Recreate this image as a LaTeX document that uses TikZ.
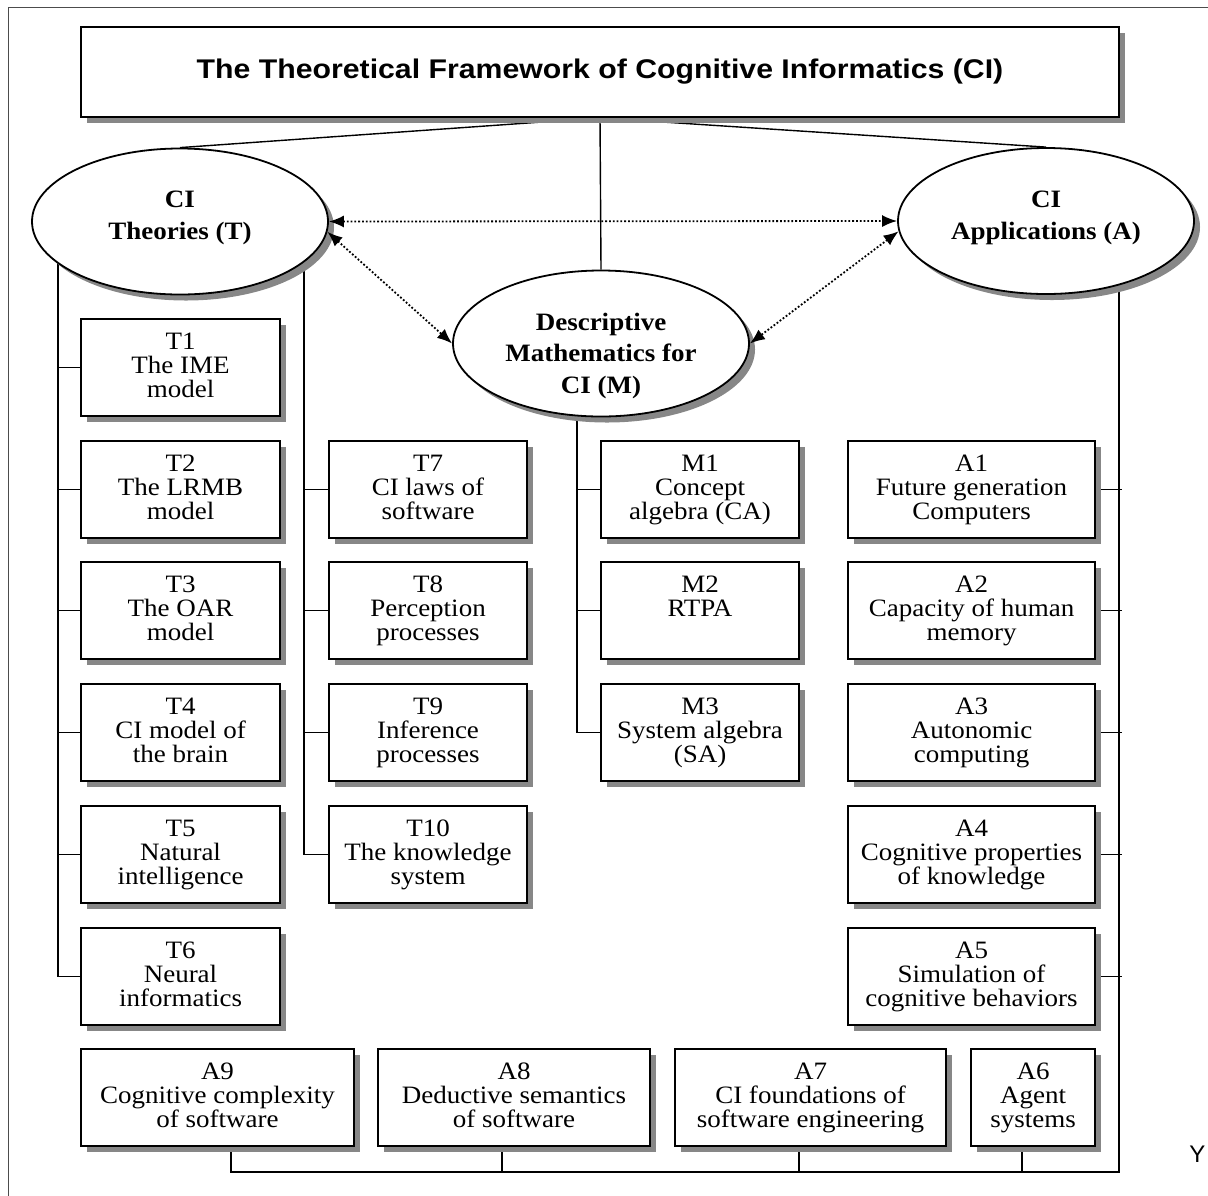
\documentclass[tikz,border=0pt]{standalone}
\usepackage{fontspec}
\setmainfont{Liberation Serif}[FakeStretch=1.08]
\newfontfamily\titlefont{Liberation Sans}[FakeStretch=1.12]
\newfontfamily\plainsans{Liberation Sans}
\usetikzlibrary{shapes.geometric,shadows,arrows.meta,calc}
\pgfdeclarelayer{bg}
\pgfsetlayers{bg,main}

\tikzset{
  boxshadow/.style={drop shadow={shadow xshift=3pt, shadow yshift=-3pt, fill=black!47, opacity=1}},
  boxframe/.style={draw=black, line width=0.9pt, fill=white, boxshadow, inner sep=0pt},
  itembox/.style={boxframe, rectangle, font=\fontsize{12.5}{12.2}\selectfont},
  groupshape/.style={boxframe, ellipse, minimum width=148pt, minimum height=73pt},
  grouplabel/.style={anchor=north, inner sep=0pt, font=\bfseries\fontsize{12.5}{16}\selectfont},
  link/.style={line width=0.7pt},
  rel/.style={line width=0.9pt, densely dotted,
    {Latex[length=7.5pt,width=6pt]}-{Latex[length=7.5pt,width=6pt]}},
}
% text of a box: top-aligned lines inside a box of fixed size
\newcommand{\itemtext}[2]{\parbox[c][48.5pt][t]{#1}{\centering\rule{0pt}{15pt}#2}}

\begin{document}
\begin{tikzpicture}[x=0.5pt,y=-0.5pt]
\useasboundingbox (0,0) rectangle (1208,1195);
\draw[black!70, line width=0.5pt] (8,1210) -- (8,7) -- (1220,7);

% heading
\node[boxframe, rectangle, minimum width=519pt, minimum height=45pt,
      font=\titlefont\bfseries\fontsize{13.5}{16}\selectfont] (title) at (600,72)
  {The Theoretical Framework of Cognitive Informatics (CI)};

% the three parts
\node[groupshape] (T) at (180,221.5) {};
\node[groupshape] (A) at (1046,221) {};
\node[groupshape] (M) at (601,343.5) {};
\node[grouplabel] (Tl) at (T.north) {\parbox[t]{130pt}{\centering\rule{0pt}{29.5pt}CI\\Theories (T)}};
\node[grouplabel] (Al) at (A.north) {\parbox[t]{130pt}{\centering\rule{0pt}{30pt}CI\\Applications (A)}};
\node[grouplabel, font=\bfseries\fontsize{12.5}{15.75}\selectfont] (Ml) at (M.north)
  {\parbox[t]{130pt}{\centering\rule{0pt}{30pt}Descriptive\\Mathematics for\\CI (M)}};

% theories
\node[itembox] (t1) at (180.5,367.5) {\itemtext{99.5pt}{T1\\The IME\\model}};
\node[itembox] (t2) at (180.5,489.5) {\itemtext{99.5pt}{T2\\The LRMB\\model}};
\node[itembox] (t3) at (180.5,610.5) {\itemtext{99.5pt}{T3\\The OAR\\model}};
\node[itembox] (t4) at (180.5,732.5) {\itemtext{99.5pt}{T4\\CI model of\\the brain}};
\node[itembox] (t5) at (180.5,854.5) {\itemtext{99.5pt}{T5\\Natural\\intelligence}};
\node[itembox] (t6) at (180.5,976.5) {\itemtext{99.5pt}{T6\\Neural\\informatics}};
\node[itembox] (t7) at (428,489.5) {\itemtext{99pt}{T7\\CI laws of\\software}};
\node[itembox] (t8) at (428,610.5) {\itemtext{99pt}{T8\\Perception\\processes}};
\node[itembox] (t9) at (428,732.5) {\itemtext{99pt}{T9\\Inference\\processes}};
\node[itembox] (t10) at (428,854.5) {\itemtext{99pt}{T10\\The knowledge\\system}};

% mathematics
\node[itembox] (m1) at (700,489.5) {\itemtext{99pt}{M1\\Concept\\algebra (CA)}};
\node[itembox] (m2) at (700,610.5) {\itemtext{99pt}{M2\\RTPA}};
\node[itembox] (m3) at (700,732.5) {\itemtext{99pt}{M3\\System algebra\\(SA)}};

% applications
\node[itembox] (a1) at (971.5,489.5) {\itemtext{123.5pt}{A1\\Future generation\\Computers}};
\node[itembox] (a2) at (971.5,610.5) {\itemtext{123.5pt}{A2\\Capacity of human\\memory}};
\node[itembox] (a3) at (971.5,732.5) {\itemtext{123.5pt}{A3\\Autonomic\\computing}};
\node[itembox] (a4) at (971.5,854.5) {\itemtext{123.5pt}{A4\\Cognitive properties\\of knowledge}};
\node[itembox] (a5) at (971.5,976.5) {\itemtext{123.5pt}{A5\\Simulation of\\cognitive behaviors}};
\node[itembox] (a9) at (217.5,1097.5) {\itemtext{136.5pt}{A9\\Cognitive complexity\\of software}};
\node[itembox] (a8) at (514,1097.5) {\itemtext{136pt}{A8\\Deductive semantics\\of software}};
\node[itembox] (a7) at (810.5,1097.5) {\itemtext{135.5pt}{A7\\CI foundations of\\software engineering}};
\node[itembox] (a6) at (1033,1097.5) {\itemtext{62pt}{A6\\Agent\\systems}};

\node[font=\plainsans\fontsize{12}{14}\selectfont, anchor=base west, inner sep=0pt] (ymark) at (1189,1162) {Y};

% tree lines, behind the shapes
\begin{pgfonlayer}{bg}
  \draw[link] (title.south) -- (T.north);
  \draw[link] (title.south) -- (A.north);
  \draw[link] (title.south) -- (M.north);
  \coordinate (tl) at (58,221.5);
  \coordinate (tr) at (304,221.5);
  \coordinate (mt) at (577,343.5);
  \coordinate (at) at (1119,221);
  \coordinate (bus) at (1119,1172);
  \draw[link] (tl) |- (t6.west);
  \foreach \n in {t1,t2,t3,t4,t5} \draw[link] (tl |- \n.west) -- (\n.west);
  \draw[link] (tr) |- (t10.west);
  \foreach \n in {t7,t8,t9} \draw[link] (tr |- \n.west) -- (\n.west);
  \draw[link] (mt) |- (m3.west);
  \foreach \n in {m1,m2} \draw[link] (mt |- \n.west) -- (\n.west);
  \foreach \n in {a1,a2,a3,a4,a5} \draw[link] (\n.east) -- ([xshift=1.5pt]\n.east -| at);
  \coordinate (d9) at ($(a9.south)+(13.5,0)$);
  \coordinate (d8) at ($(a8.south)+(-12,0)$);
  \coordinate (d7) at ($(a7.south)+(-11.5,0)$);
  \coordinate (d6) at ($(a6.south)+(-11,0)$);
  \draw[link] (at) -- (bus) -| (d9);
  \foreach \n in {d8,d7,d6} \draw[link] (\n) -- (\n |- bus);
\end{pgfonlayer}

% relations between the parts
\draw[rel] (T.east) -- (A.west);
\draw[rel] (T.-4) -- (M.west);
\draw[rel] (A.184) -- (M.east);
\end{tikzpicture}
\end{document}
